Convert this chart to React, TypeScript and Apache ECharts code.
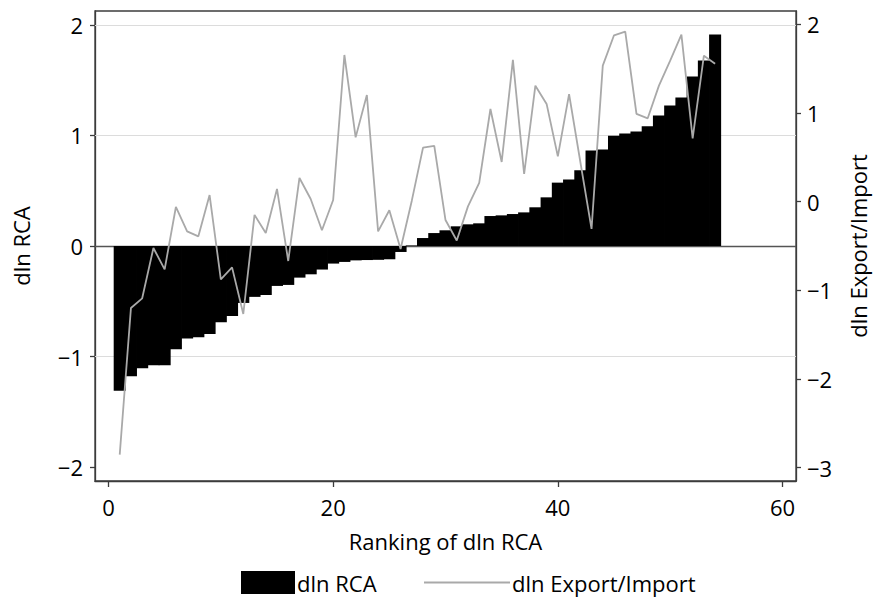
import React, { useEffect, useRef } from "react";
import * as echarts from "echarts";

// dln RCA, sorted ranking 1..54 (left axis)
const rcaValues = [
  -1.31, -1.177, -1.105, -1.078, -1.078, -0.933, -0.837, -0.825, -0.795, -0.689,
  -0.632, -0.515, -0.46, -0.443, -0.361, -0.352, -0.286, -0.256, -0.213, -0.159,
  -0.144, -0.13, -0.127, -0.125, -0.12, -0.054, 0.005, 0.072, 0.117, 0.142,
  0.178, 0.196, 0.205, 0.271, 0.277, 0.289, 0.304, 0.35, 0.44, 0.573,
  0.602, 0.684, 0.864, 0.873, 0.998, 1.018, 1.036, 1.083, 1.18, 1.271,
  1.343, 1.533, 1.677, 1.912,
];

// dln Export/Import (right axis)
const exportImportValues = [
  -2.853, -1.199, -1.09, -0.523, -0.763, -0.06, -0.335, -0.391, 0.075, -0.876,
  -0.741, -1.267, -0.15, -0.353, 0.143, -0.669, 0.267, 0.03, -0.323, 0.019,
  1.654, 0.725, 1.203, -0.335, -0.097, -0.534, 0.011, 0.609, 0.628, -0.207,
  -0.438, -0.053, 0.211, 1.045, 0.447, 1.598, 0.312, 1.308, 1.102, 0.511,
  1.213, 0.45, -0.308, 1.534, 1.876, 1.917, 0.989, 0.94, 1.308, 1.59,
  1.883, 0.714, 1.646, 1.554,
];

const xTicks = [0, 20, 40, 60];
const leftTicks = [-2, -1, 0, 1, 2];
const rightTicks = [-3, -2, -1, 0, 1, 2];
const leftGridLines = [2, 1, -1];

const FONT = "'Open Sans', 'DejaVu Sans', sans-serif";
const AXIS_COLOR = "#3c3c3c";
const LINE_COLOR = "#a9a9a9";
const FS = 22;

const minusFmt = (v: number) => (v < 0 ? "\u2212" + Math.abs(v) : String(v));

export default function App() {
  const ref = useRef<HTMLDivElement | null>(null);

  useEffect(() => {
    if (!ref.current) return;
    const chart = echarts.init(ref.current, null, { renderer: "svg" });

    const rcaData = rcaValues.map((v, i) => [i + 1, v]);
    const eiData = exportImportValues.map((v, i) => [i + 1, v]);

    const axisLine = { lineStyle: { color: AXIS_COLOR, width: 1.3 } };
    const tickStyle = { color: AXIS_COLOR, width: 1.3 };
    const legendText = {
      fontFamily: FONT,
      fontSize: FS,
      lineHeight: 23,
      color: "#000",
      padding: [0, 0, 0, -3],
    };

    const option: any = {
      animation: false,
      textStyle: { fontFamily: FONT },
      grid: {
        left: 95,
        right: 78,
        top: 11,
        bottom: 117,
        show: true,
        borderColor: AXIS_COLOR,
        borderWidth: 1.3,
        backgroundColor: "#fff",
        outerBoundsMode: "none",
      },
      legend: [
        {
          left: 241,
          top: 571,
          itemWidth: 54,
          itemHeight: 23,
          itemGap: 0,
          padding: 0,
          textStyle: legendText,
          data: [{ name: "dln RCA", icon: "rect", itemStyle: { color: "#000" } }],
        },
        {
          left: 424,
          top: 571,
          itemWidth: 86,
          itemHeight: 2,
          padding: 0,
          textStyle: legendText,
          data: [{ name: "dln Export/Import", icon: "rect", itemStyle: { color: LINE_COLOR } }],
        },
      ],
      xAxis: {
        type: "value",
        min: -1.2,
        max: 61.2,
        axisLine: { onZero: false, ...axisLine },
        axisTick: { show: true, length: 6, customValues: xTicks, lineStyle: tickStyle },
        axisLabel: { customValues: xTicks, fontSize: FS, color: "#000", margin: 15, fontFamily: FONT },
        splitLine: { show: false },
        name: "Ranking of dln RCA",
        nameLocation: "middle",
        nameGap: 49,
        nameTextStyle: { fontSize: FS, color: "#000", fontFamily: FONT },
      },
      yAxis: [
        {
          type: "value",
          position: "left",
          min: -2.125,
          max: 2.125,
          axisLine: { show: true, onZero: false, ...axisLine },
          axisTick: { show: true, length: 5, customValues: leftTicks, lineStyle: tickStyle },
          axisLabel: {
            customValues: leftTicks,
            fontSize: FS,
            color: "#000",
            margin: 12,
            fontFamily: FONT,
            formatter: minusFmt,
          },
          splitLine: { show: false },
          name: "dln RCA",
          nameLocation: "middle",
          nameGap: 63,
          nameRotate: 90,
          nameTextStyle: { fontSize: FS, color: "#000", fontFamily: FONT },
        },
        {
          type: "value",
          position: "right",
          min: -3.15,
          max: 2.15,
          axisLine: { show: true, onZero: false, ...axisLine },
          axisTick: { show: true, length: 5, customValues: rightTicks, lineStyle: tickStyle },
          axisLabel: {
            customValues: rightTicks,
            fontSize: FS,
            color: "#000",
            margin: 11,
            fontFamily: FONT,
            formatter: minusFmt,
          },
          splitLine: { show: false },
          name: "dln Export/Import",
          nameLocation: "middle",
          nameGap: 51,
          nameRotate: 90,
          nameTextStyle: { fontSize: FS, lineHeight: 22, color: "#000", fontFamily: FONT },
        },
      ],
      series: [
        {
          name: "dln RCA",
          type: "custom",
          xAxisIndex: 0,
          yAxisIndex: 0,
          z: 10,
          data: rcaData,
          encode: { x: 0, y: 1 },
          itemStyle: { color: "#000" },
          renderItem: (params: any, api: any) => {
            const x = api.value(0);
            const v = api.value(1);
            const p0 = api.coord([x - 0.5, 0]);
            const p1 = api.coord([x + 0.5, v]);
            return {
              type: "rect",
              shape: {
                x: p0[0] - 0.4,
                y: Math.min(p0[1], p1[1]),
                width: p1[0] - p0[0] + 0.8,
                height: Math.abs(p1[1] - p0[1]),
              },
              style: { fill: "#000" },
            };
          },
          markLine: {
            silent: true,
            symbol: "none",
            label: { show: false },
            animation: false,
            data: [
              ...leftGridLines.map((v) => ({ yAxis: v, lineStyle: { color: "#dcdcdc", width: 1.2, type: "solid" } })),
              { yAxis: 0, lineStyle: { color: "#555", width: 1.3, type: "solid" } },
            ],
          },
        },
        {
          name: "dln Export/Import",
          type: "line",
          xAxisIndex: 0,
          yAxisIndex: 1,
          z: 11,
          data: eiData,
          symbol: "none",
          showSymbol: false,
          itemStyle: { color: LINE_COLOR },
          lineStyle: { color: LINE_COLOR, width: 1.8 },
        },
      ],
    };

    chart.setOption(option);
    return () => chart.dispose();
  }, []);

  return (
    <div
      ref={ref}
      style={{ position: "absolute", left: 0, top: 0, width: 874, height: 598, background: "#fff" }}
    />
  );
}
